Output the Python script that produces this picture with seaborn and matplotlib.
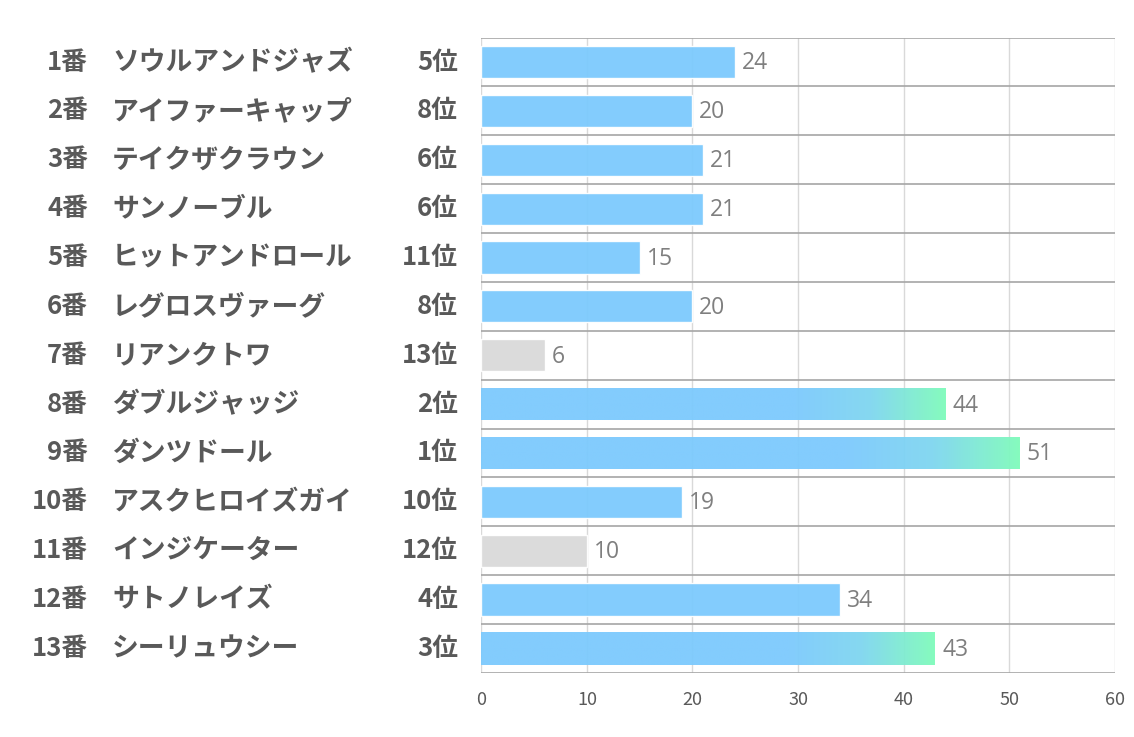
import numpy as np
import pandas as pd
import matplotlib
matplotlib.use("Agg")
import matplotlib.pyplot as plt
import seaborn as sns
from matplotlib.colors import LinearSegmentedColormap

# ─────────────────────────────────────────
# Data
# ─────────────────────────────────────────
numbers = ["1番", "2番", "3番", "4番", "5番", "6番", "7番",
           "8番", "9番", "10番", "11番", "12番", "13番"]
horses = ["ソウルアンドジャズ", "アイファーキャップ", "テイクザクラウン",
          "サンノーブル", "ヒットアンドロール", "レグロスヴァーグ",
          "リアンクトワ", "ダブルジャッジ", "ダンツドール",
          "アスクヒロイズガイ", "インジケーター", "サトノレイズ",
          "シーリュウシー"]
ranks = ["5位", "8位", "6位", "6位", "11位", "8位", "13位",
         "2位", "1位", "10位", "12位", "4位", "3位"]
scores = [24, 20, 21, 21, 15, 20, 6, 44, 51, 19, 10, 34, 43]

BLUE = "#7ccafd"
GRAY = "#d9d9d9"
GREEN = "#80fbbb"
TXT = "#595959"

def bar_color(rank):
    r = int(rank.replace("位", ""))
    return GRAY if r >= 12 else BLUE

df = pd.DataFrame({"label": [f"{n}{h}" for n, h in zip(numbers, horses)],
                   "score": scores, "rank": ranks})
palette = [bar_color(r) for r in ranks]

# ─────────────────────────────────────────
# Plot
# ─────────────────────────────────────────
sns.set_theme(style="white")
plt.rcParams['font.family'] = ['Noto Sans CJK JP', 'DejaVu Sans']

fig = plt.figure(figsize=(11.34, 7.37), dpi=100)
ax = fig.add_axes([0.4245, 0.087, 0.5585, 0.862])

sns.barplot(data=df, y="label", x="score", hue="label", palette=palette,
            legend=False, orient="h", width=0.66, ax=ax, saturation=1,
            alpha=0.95, zorder=2)

ax.set_xlim(0, 60)
ax.set_ylim(len(df) - 0.5, -0.5)
ax.set_xticks(range(0, 61, 10))
ax.set_xlabel("")
ax.set_ylabel("")
ax.set_yticks([])
for s in ax.spines.values():
    s.set_visible(False)

# grid lines
for x in range(0, 61, 10):
    ax.axvline(x, color="#d9d9d9", lw=1, zorder=1)
for y in np.arange(-0.5, len(df), 1.0):
    ax.axhline(y, color="#a6a6a6", lw=1.2, zorder=1)

ax.tick_params(axis="x", length=0, labelsize=13, labelcolor=TXT, pad=13)

# gradient on top-3 bars
cmap = LinearSegmentedColormap.from_list("bg", [BLUE, "#7fd6f0", GREEN])
for patch, r in zip(ax.patches, ranks):
    if int(r.replace("位", "")) <= 3:
        x0, y0 = patch.get_x(), patch.get_y()
        w, h = patch.get_width(), patch.get_height()
        grad = np.linspace(0, 1, 256)
        grad = np.clip((grad - 0.68) / 0.32, 0, 1)[None, :]
        im = ax.imshow(grad, cmap=cmap, aspect="auto", alpha=0.95,
                       extent=[x0, x0 + w, y0 + h, y0], zorder=2)
        im.set_clip_path(patch)
        patch.set_alpha(0)

# value labels
for i, v in enumerate(scores):
    ax.text(v + 0.65, i + 0.03, str(v), va="center", ha="left",
            fontsize=16.5, color="#7f7f7f", family=["Open Sans", "DejaVu Sans"])

# left-side labels
for i, (n, h, r) in enumerate(zip(numbers, horses, ranks)):
    yy = ax.transData.transform((0, i))[1]
    yf = fig.transFigure.inverted().transform((0, yy))[1]
    fig.text(88 / 1134, yf, n, ha="right", va="center", fontsize=18.5,
             fontweight="bold", color=TXT)
    fig.text(112 / 1134, yf, h, ha="left", va="center", fontsize=19.3,
             fontweight="bold", color=TXT)
    fig.text(458 / 1134, yf, r, ha="right", va="center", fontsize=18.5,
             fontweight="bold", color=TXT)

fig.savefig("out.png", dpi=100, facecolor="white")
